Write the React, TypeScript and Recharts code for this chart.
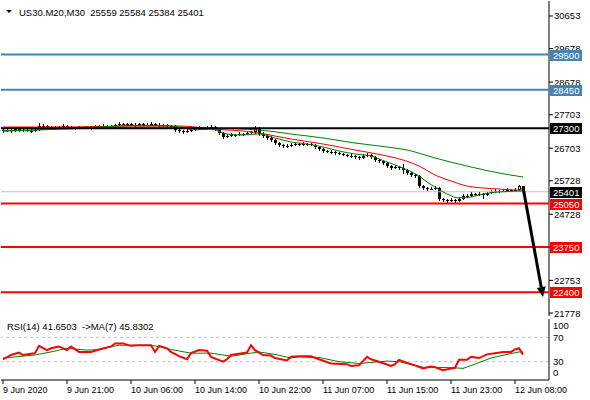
import React from 'react';
import {
  ComposedChart,
  Bar,
  Line,
  XAxis,
  YAxis,
  ReferenceLine,
  ReferenceArea,
} from 'recharts';

// [open, high, low, close] per M30 bar
const candles: [number, number, number, number][] = [
  [27240, 27290, 27170, 27217], [27217, 27295, 27180, 27247], [27247, 27285, 27170, 27217], [27217, 27320, 27190, 27276],
  [27276, 27310, 27200, 27247], [27247, 27300, 27195, 27250], [27250, 27290, 27175, 27217], [27217, 27270, 27165, 27220],
  [27220, 27295, 27185, 27247], [27247, 27450, 27215, 27366], [27366, 27430, 27310, 27370], [27370, 27410, 27290, 27336],
  [27336, 27380, 27260, 27306], [27306, 27360, 27260, 27310], [27310, 27380, 27270, 27336], [27336, 27415, 27300, 27366],
  [27366, 27405, 27295, 27336], [27336, 27375, 27265, 27306], [27306, 27350, 27260, 27310], [27310, 27380, 27270, 27336],
  [27336, 27380, 27290, 27340], [27340, 27378, 27265, 27306], [27306, 27355, 27260, 27310], [27310, 27382, 27272, 27336],
  [27336, 27410, 27300, 27366], [27366, 27415, 27320, 27362], [27362, 27400, 27295, 27336], [27336, 27410, 27300, 27366],
  [27366, 27440, 27330, 27396], [27396, 27475, 27360, 27426], [27426, 27462, 27355, 27396], [27396, 27470, 27360, 27426],
  [27426, 27465, 27355, 27396], [27396, 27445, 27350, 27400], [27400, 27470, 27362, 27426], [27426, 27462, 27358, 27396],
  [27396, 27442, 27355, 27400], [27400, 27475, 27365, 27426], [27426, 27466, 27355, 27396], [27396, 27442, 27350, 27398],
  [27398, 27440, 27345, 27396], [27396, 27434, 27320, 27366], [27366, 27410, 27310, 27362], [27362, 27398, 27195, 27247],
  [27247, 27292, 27165, 27217], [27217, 27260, 27130, 27187], [27187, 27265, 27150, 27217], [27217, 27292, 27175, 27247],
  [27247, 27322, 27210, 27276], [27276, 27352, 27238, 27306], [27306, 27348, 27255, 27310], [27310, 27355, 27260, 27306],
  [27306, 27382, 27270, 27336], [27336, 27375, 27230, 27276], [27276, 27315, 27110, 27157], [27157, 27200, 26980, 27037],
  [27037, 27115, 26995, 27067], [27067, 27142, 27025, 27097], [27097, 27140, 27045, 27092], [27092, 27172, 27055, 27127],
  [27127, 27170, 27075, 27130], [27130, 27202, 27092, 27157], [27157, 27230, 27120, 27187], [27187, 27360, 27140, 27280],
  [27280, 27330, 27070, 27127], [27127, 27180, 27010, 27067], [27067, 27110, 26960, 27008], [27008, 27055, 26900, 26948],
  [26948, 26990, 26810, 26858], [26858, 26900, 26750, 26798], [26798, 26842, 26720, 26769], [26769, 26820, 26722, 26772],
  [26772, 26845, 26730, 26798], [26798, 26875, 26760, 26828], [26828, 26870, 26780, 26825], [26825, 26875, 26782, 26830],
  [26830, 26872, 26780, 26828], [26828, 26865, 26755, 26798], [26798, 26838, 26690, 26739], [26739, 26780, 26630, 26679],
  [26679, 26720, 26570, 26619], [26619, 26660, 26545, 26589], [26589, 26635, 26540, 26592], [26592, 26630, 26510, 26559],
  [26559, 26600, 26485, 26529], [26529, 26570, 26455, 26500], [26500, 26540, 26425, 26470], [26470, 26515, 26420, 26472],
  [26472, 26510, 26395, 26440], [26440, 26480, 26360, 26410], [26410, 26515, 26370, 26470], [26470, 26550, 26430, 26500],
  [26500, 26540, 26395, 26440], [26440, 26480, 26300, 26350], [26350, 26392, 26270, 26320], [26320, 26360, 26210, 26260],
  [26260, 26300, 26120, 26171], [26171, 26215, 26060, 26111], [26111, 26190, 26070, 26141], [26141, 26180, 26065, 26111],
  [26111, 26235, 25930, 26051], [26051, 26090, 25910, 25962], [25962, 26005, 25855, 25902], [25902, 25945, 25820, 25872],
  [25872, 25910, 25525, 25573], [25573, 25615, 25465, 25514], [25514, 25555, 25435, 25484], [25484, 25530, 25440, 25488],
  [25488, 25560, 25450, 25514], [25514, 25550, 25135, 25185], [25185, 25225, 25105, 25155], [25155, 25195, 25075, 25125],
  [25125, 25200, 25085, 25155], [25155, 25195, 25080, 25125], [25125, 25230, 25085, 25185], [25185, 25320, 25145, 25275],
  [25275, 25320, 25225, 25272], [25272, 25380, 25232, 25334], [25334, 25375, 25260, 25304], [25304, 25382, 25265, 25334],
  [25334, 25375, 25190, 25304], [25304, 25408, 25266, 25364], [25364, 25440, 25325, 25394], [25394, 25470, 25355, 25424],
  [25424, 25466, 25375, 25420], [25420, 25472, 25380, 25424], [25424, 25500, 25385, 25454], [25454, 25498, 25408, 25450],
  [25450, 25505, 25410, 25454], [25454, 25600, 25415, 25559], [25559, 25584, 25384, 25401],
];

// moving averages read at [bar, price]
const fastMa: [number, number][] = [
  [0, 27217], [8, 27247], [16, 27306], [24, 27336], [32, 27381], [40, 27381], [44, 27336], [48, 27247],
  [52, 27276], [56, 27127], [60, 27097], [64, 27127], [68, 27008], [72, 26888], [76, 26828], [80, 26739],
  [84, 26619], [88, 26529], [92, 26470], [96, 26290], [100, 26111], [104, 25872], [106, 25693], [108, 25544],
  [111, 25334], [114, 25215], [117, 25245], [120, 25334], [124, 25394], [130, 25424],
];
const midMa: [number, number][] = [
  [0, 27336], [16, 27336], [32, 27366], [44, 27366], [48, 27336], [52, 27276], [56, 27247], [60, 27217],
  [64, 27157], [68, 27067], [72, 26978], [80, 26828], [88, 26649], [96, 26470], [100, 26350], [104, 26171],
  [108, 25902], [112, 25723], [116, 25573], [120, 25514], [124, 25484], [128, 25454], [130, 25454],
];
const slowMa: [number, number][] = [
  [0, 27217], [16, 27276], [32, 27336], [44, 27336], [50, 27306], [56, 27291], [60, 27276], [64, 27247],
  [72, 27127], [80, 27008], [88, 26858], [96, 26739], [101, 26649], [108, 26410], [117, 26141], [124, 25962],
  [130, 25842],
];

// RSI(14) and its MA(7) at [bar, value]
const rsi: [number, number][] = [
  [0, 34], [2, 41], [4, 45], [5, 41], [7, 43], [8, 44], [9, 56], [11, 49], [12, 52], [14, 55], [16, 49],
  [17, 55], [19, 46], [22, 46], [24, 50], [27, 55], [28, 60], [30, 60], [32, 56], [34, 57], [37, 57],
  [38, 46], [39, 56], [41, 52], [42, 46], [44, 39], [46, 34], [47, 44], [49, 49], [51, 48], [52, 38],
  [55, 30], [56, 34], [57, 41], [59, 43], [61, 45], [62, 57], [63, 49], [64, 45], [65, 41], [67, 40],
  [68, 36], [71, 32], [72, 38], [74, 39], [77, 39], [79, 34], [82, 27], [86, 26], [87, 23], [89, 24],
  [91, 38], [92, 34], [94, 30], [97, 23], [98, 26], [99, 33], [101, 28], [103, 24], [105, 19], [107, 22],
  [108, 21], [110, 16], [112, 19], [113, 20], [114, 33], [116, 33], [117, 38], [119, 36], [121, 42],
  [123, 44], [125, 46], [127, 46], [128, 50], [129, 52], [130, 41.65],
];
const rsiMa: [number, number][] = [
  [0, 36], [8, 41], [12, 46], [16, 52], [21, 49], [24, 50], [29, 57], [34, 57], [38, 56], [42, 50],
  [47, 44], [52, 44], [57, 39], [62, 44], [64, 46], [68, 42], [72, 36], [74, 38], [77, 37], [79, 37],
  [84, 30], [89, 27], [96, 31], [99, 30], [105, 21], [107, 21], [113, 20], [115, 19], [118, 26],
  [122, 36], [126, 42], [129, 46], [130, 45.83],
];

const priceTicks = [21778, 22753, 23753, 24728, 25728, 26703, 27703, 28678, 29678, 30653];
const timeTicks = [0, 16, 32, 48, 64, 80, 96, 112, 128];
const timeLabels = [
  '9 Jun 2020', '9 Jun 21:00', '10 Jun 06:00', '10 Jun 14:00', '10 Jun 22:00',
  '11 Jun 07:00', '11 Jun 15:00', '11 Jun 23:00', '12 Jun 08:00',
];
const rsiTicks = [0, 30, 70, 100];

const blueLevels = [29500, 28450];
const blackLevel = 27300;
const redLevels = [25050, 23750, 22400];
const lastPrice = 25401;
const arrowFrom = { i: 130, price: 25540 };
const arrowTo = { i: 135, price: 22257 };

const header = 'US30.M20,M30  25559 25584 25384 25401';
const rsiHeader = 'RSI(14) 41.6503  ->MA(7) 45.8302';

const FONT = '"Liberation Sans", Arial, sans-serif';
const PRICE_DOMAIN: [number, number] = [21689, 31101];
const BAR_DOMAIN: [number, number] = [-0.5, 136.5];
const MAIN_MARGIN = { top: 1, right: 0, bottom: 6, left: 1 };

const candleData = candles.map(([o, h, l, c], i) => ({ i, o, h, l, c, range: [l, h] }));
const toPts = (arr: [number, number][]) => arr.map(([i, v]) => ({ i, v }));

const Candle = (props: any) => {
  const { x, y, width, height, payload } = props;
  if (x == null || y == null || !payload) return null;
  const { o, h, l, c } = payload;
  const k = height / (h - l || 1);
  const cx = Math.round(x + width / 2);
  const top = y + (h - Math.max(o, c)) * k;
  const bot = y + (h - Math.min(o, c)) * k;
  let body;
  if (bot - top < 1.5) {
    body = <line x1={cx - 1} x2={cx + 2} y1={Math.round(top) + 0.5} y2={Math.round(top) + 0.5} stroke="#000" />;
  } else if (c > o) {
    body = <rect x={cx - 0.5} y={Math.round(top) + 0.5} width={2} height={Math.max(1, Math.round(bot - top) - 1)} fill="#fff" stroke="#000" />;
  } else {
    body = <rect x={cx - 1} y={Math.round(top)} width={3} height={Math.round(bot - top)} fill="#000" />;
  }
  return (
    <g>
      <line x1={cx + 0.5} x2={cx + 0.5} y1={Math.round(y)} y2={Math.round(y + height)} stroke="#000" />
      {body}
    </g>
  );
};

const priceBox = (value: number, bg: string) => (props: any) => {
  const vb = props.viewBox;
  if (!vb) return null;
  const x = vb.x + vb.width + 1;
  const y = Math.round(vb.y);
  return (
    <g>
      <rect x={x} y={y - 5} width={32} height={11} fill={bg} />
      <text x={x + 3} y={y + 4} fill="#fff" fontSize={9.5} fontFamily={FONT}>{value}</text>
    </g>
  );
};

const PriceTick = (props: any) => (
  <text x={props.x} y={props.y + 3.5} fontSize={9.5} fontFamily={FONT} fill="#000" textAnchor="start">
    {props.payload.value}
  </text>
);

const RsiTick = (props: any) => {
  const v = props.payload.value;
  const shift = v === 100 ? 6 : v === 0 ? -8 : 0;
  return (
    <text x={props.x} y={props.y + shift + 3.5} fontSize={9.5} fontFamily={FONT} fill="#000" textAnchor="start">
      {v}
    </text>
  );
};

const TimeTick = (props: any) => {
  const idx = timeTicks.indexOf(props.payload.value);
  return (
    <text x={props.x} y={props.y + 7} fontSize={9} fontFamily={FONT} fill="#000" textAnchor="start">
      {timeLabels[idx]}
    </text>
  );
};

const Arrow = (p: any) => {
  const { x1, y1, x2, y2 } = p;
  if (x1 == null) return null;
  const a = Math.atan2(y2 - y1, x2 - x1);
  const len = 10;
  const half = 4.5;
  const bx = x2 - len * Math.cos(a);
  const by = y2 - len * Math.sin(a);
  const px = -Math.sin(a) * half;
  const py = Math.cos(a) * half;
  return (
    <g>
      <line x1={x1} y1={y1} x2={bx} y2={by} stroke="#000" strokeWidth={3} />
      <polygon points={`${x2},${y2} ${bx + px},${by + py} ${bx - px},${by - py}`} fill="#000" />
    </g>
  );
};

export default function App() {
  return (
    <div style={{ position: 'absolute', left: 0, top: 0, width: 590, height: 400, background: '#fff', fontFamily: FONT }}>
      {/* price panel: candles, moving averages, axis */}
      <div style={{ position: 'absolute', left: 0, top: 0 }}>
        <ComposedChart width={590} height={322} data={candleData} margin={MAIN_MARGIN}>
          <XAxis type="number" dataKey="i" domain={BAR_DOMAIN} hide allowDataOverflow />
          <YAxis
            orientation="right"
            width={41}
            domain={PRICE_DOMAIN}
            ticks={priceTicks}
            interval={0}
            allowDataOverflow
            tick={<PriceTick />}
            tickSize={4}
            tickMargin={1}
            tickLine={{ stroke: '#000' }}
            axisLine={{ stroke: '#000' }}
          />
          <ReferenceLine y={lastPrice} stroke="#c0c0c0" />
          <Bar dataKey="range" barSize={3} shape={<Candle />} isAnimationActive={false} />
          <Line data={toPts(slowMa)} dataKey="v" type="monotone" stroke="#008000" dot={false} isAnimationActive={false} />
          <Line data={toPts(midMa)} dataKey="v" type="monotone" stroke="#ff0000" dot={false} isAnimationActive={false} />
          <Line data={toPts(fastMa)} dataKey="v" type="monotone" stroke="#008000" dot={false} isAnimationActive={false} />
          <ReferenceArea fill="none" stroke="#000" />
        </ComposedChart>
      </div>
      {/* price panel overlay: levels, price boxes and arrow drawn above the axis labels */}
      <div style={{ position: 'absolute', left: 0, top: 0 }}>
        <ComposedChart width={590} height={322} data={candleData} margin={MAIN_MARGIN}>
          <XAxis type="number" dataKey="i" domain={BAR_DOMAIN} hide allowDataOverflow />
          <YAxis orientation="right" width={41} domain={PRICE_DOMAIN} allowDataOverflow tick={false} tickLine={false} axisLine={false} />
          <ReferenceLine y={lastPrice} stroke="none" label={priceBox(lastPrice, '#000')} />
          {blueLevels.map((v) => (
            <ReferenceLine key={v} y={v} stroke="#4682b4" strokeWidth={2} label={priceBox(v, '#4682b4')} />
          ))}
          <ReferenceLine y={blackLevel} stroke="#000" strokeWidth={2} label={priceBox(blackLevel, '#000')} />
          {redLevels.map((v) => (
            <ReferenceLine key={v} y={v} stroke="#ff0000" strokeWidth={2} label={priceBox(v, '#ff0000')} />
          ))}
          <ReferenceLine
            segment={[{ x: arrowFrom.i, y: arrowFrom.price }, { x: arrowTo.i, y: arrowTo.price }]}
            shape={<Arrow />}
          />
        </ComposedChart>
      </div>
      {/* RSI panel */}
      <div style={{ position: 'absolute', left: 0, top: 317 }}>
        <ComposedChart width={590} height={83} margin={{ top: 2, right: 0, bottom: 0, left: 1 }}>
          <XAxis
            type="number"
            dataKey="i"
            domain={BAR_DOMAIN}
            allowDataOverflow
            ticks={timeTicks}
            interval={0}
            height={20}
            tick={<TimeTick />}
            tickSize={4}
            tickLine={{ stroke: '#000' }}
            axisLine={{ stroke: '#000' }}
          />
          <YAxis
            orientation="right"
            width={41}
            domain={[0, 100]}
            ticks={rsiTicks}
            interval={0}
            tick={<RsiTick />}
            tickSize={3}
            tickMargin={1}
            tickLine={false}
            axisLine={{ stroke: '#000' }}
          />
          <ReferenceLine y={70} stroke="#c0c0c0" strokeDasharray="3 3" />
          <ReferenceLine y={30} stroke="#c0c0c0" strokeDasharray="3 3" />
          <Line data={toPts(rsiMa)} dataKey="v" stroke="#008000" dot={false} isAnimationActive={false} />
          <Line data={toPts(rsi)} dataKey="v" stroke="#ff0000" strokeWidth={2} dot={false} isAnimationActive={false} />
          <ReferenceArea fill="none" stroke="#000" />
        </ComposedChart>
      </div>
      <svg width={590} height={400} style={{ position: 'absolute', left: 0, top: 0, pointerEvents: 'none' }}>
        <polygon points="6,10 12,10 9,13" fill="#000" />
        <text x={19} y={16} fontSize={9.5} fontFamily={FONT} fill="#000" style={{ whiteSpace: 'pre' }}>
          {header}
        </text>
        <text x={7} y={330} fontSize={9.5} fontFamily={FONT} fill="#000" style={{ whiteSpace: 'pre' }}>
          {rsiHeader}
        </text>
      </svg>
    </div>
  );
}
